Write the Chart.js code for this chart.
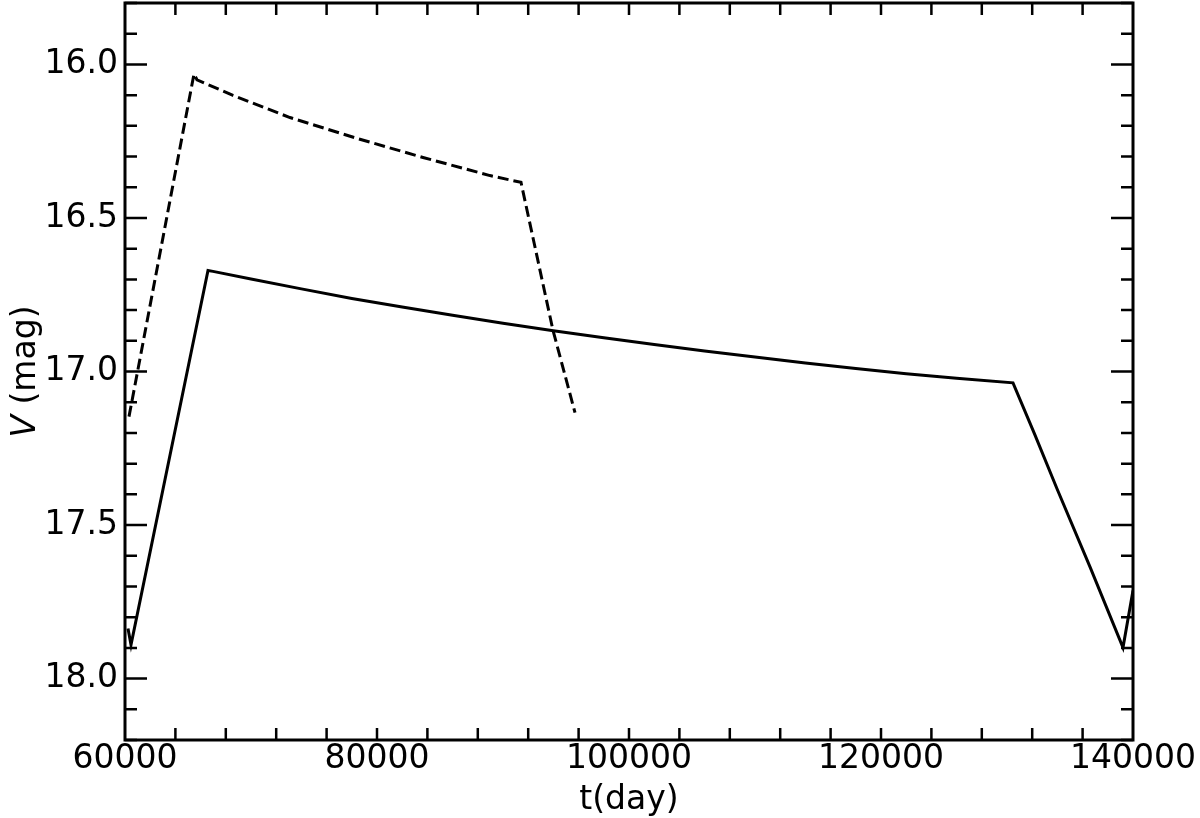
<!DOCTYPE html>
<html>
<head>
<meta charset="utf-8">
<script src="https://cdn.jsdelivr.net/npm/chart.js@4.4.1/dist/chart.umd.min.js"></script>
<style>
  html, body { margin: 0; padding: 0; background: #fff; }
  #wrap { width: 1200px; height: 818px; }
</style>
</head>
<body>
<div id="wrap"><canvas id="c" width="1200" height="818"></canvas></div>
<script>
// ---- data ----
const solidT = [60238, 60476, 66587, 66984, 70000, 74000, 78000, 82000, 86000, 90000, 94000, 98000, 102000, 106000, 110000, 114000, 118000, 122000, 126000, 130476, 132200, 133968, 136587, 139206, 140000];
const solidV = [17.837, 17.89, 16.671, 16.674, 16.699, 16.731, 16.762, 16.790, 16.817, 16.843, 16.867, 16.890, 16.912, 16.933, 16.953, 16.972, 16.990, 17.007, 17.022, 17.037, 17.205, 17.382, 17.636, 17.899, 17.713];

const dashT = [60317, 65476, 65714, 68571, 73095, 78413, 83651, 88968, 91429, 93968, 95714];
const dashV = [17.147, 16.031, 16.050, 16.101, 16.173, 16.241, 16.303, 16.362, 16.384, 16.866, 17.134];

const xTickLabels = [60000, 80000, 100000, 120000, 140000];
const yTickLabels = [16.0, 16.5, 17.0, 17.5, 18.0];
const xRange = [60000, 140000];
const yRange = [15.8, 18.2];
const xMinorStep = 4000;
const yMinorStep = 0.1;

const FONT = 'DejaVu Sans';

function toXY(ts, vs) { return ts.map((t, i) => ({ x: t, y: vs[i] })); }

const framePlugin = {
  id: 'frame',
  afterDraw(chart) {
    const { ctx, chartArea: a, scales: { x, y } } = chart;
    ctx.save();
    ctx.strokeStyle = '#000';
    ctx.lineWidth = 2.5;
    ctx.lineCap = 'butt';
    const nx = Math.round((xRange[1] - xRange[0]) / xMinorStep);
    for (let i = 1; i < nx; i++) {
      const px = x.getPixelForValue(xRange[0] + i * xMinorStep);
      ctx.beginPath();
      ctx.moveTo(px, a.bottom); ctx.lineTo(px, a.bottom - 12);
      ctx.moveTo(px, a.top); ctx.lineTo(px, a.top + 12);
      ctx.stroke();
    }
    const y0 = Math.ceil(yRange[0] / yMinorStep - 1e-6);
    const y1 = Math.floor(yRange[1] / yMinorStep + 1e-6);
    for (let k = y0; k <= y1; k++) {
      const v = k * yMinorStep;
      const major = Math.abs(v * 2 - Math.round(v * 2)) < 1e-6;
      const len = major ? 22 : 12;
      const py = y.getPixelForValue(v);
      ctx.beginPath();
      ctx.moveTo(a.left, py); ctx.lineTo(a.left + len, py);
      ctx.moveTo(a.right, py); ctx.lineTo(a.right - len, py);
      ctx.stroke();
    }
    ctx.lineWidth = 3;
    ctx.strokeRect(a.left, a.top, a.right - a.left, a.bottom - a.top);
    // y-axis label: italic V + " (mag)"
    ctx.fillStyle = '#000';
    ctx.translate(35, (a.top + a.bottom) / 2);
    ctx.rotate(-Math.PI / 2);
    ctx.textBaseline = 'alphabetic';
    const fIt = 'italic 33px "' + FONT + '"';
    const fNo = '33px "' + FONT + '"';
    ctx.font = fIt; const w1 = ctx.measureText('V').width;
    ctx.font = fNo; const w2 = ctx.measureText(' (mag)').width;
    let sx = -(w1 + w2) / 2;
    ctx.font = fIt; ctx.fillText('V', sx, 0);
    ctx.font = fNo; ctx.fillText(' (mag)', sx + w1, 0);
    ctx.restore();
  }
};

new Chart(document.getElementById('c'), {
  type: 'scatter',
  data: {
    datasets: [
      {
        data: toXY(solidT, solidV),
        showLine: true,
        borderColor: '#000',
        borderWidth: 3,
        pointRadius: 0,
        fill: false,
        tension: 0,
        clip: 0
      },
      {
        data: toXY(dashT, dashV),
        showLine: true,
        borderColor: '#000',
        borderWidth: 3,
        borderDash: [11, 5],
        pointRadius: 0,
        fill: false,
        tension: 0,
        clip: 0
      }
    ]
  },
  options: {
    responsive: false,
    animation: false,
    events: [],
    layout: { padding: { top: 3, right: 67, left: 0, bottom: 0 } },
    plugins: { legend: { display: false }, tooltip: { enabled: false } },
    scales: {
      x: {
        type: 'linear',
        min: xRange[0], max: xRange[1],
        grid: { display: false, drawTicks: false },
        border: { display: false },
        afterBuildTicks(s) { s.ticks = xTickLabels.map(v => ({ value: v })); },
        afterFit(s) { s.height = 78; s.paddingLeft = 0; s.paddingRight = 0; },
        ticks: {
          color: '#000',
          font: { family: FONT, size: 33, lineHeight: 1.1 },
          padding: 1,
          maxRotation: 0,
          autoSkip: false,
          callback: v => String(v)
        },
        title: {
          display: true,
          text: 't(day)',
          color: '#000',
          font: { family: FONT, size: 33, lineHeight: 1.0 },
          padding: { top: 0, bottom: 1 }
        }
      },
      y: {
        type: 'linear',
        reverse: true,
        min: yRange[0], max: yRange[1],
        grid: { display: false, drawTicks: false },
        border: { display: false },
        afterBuildTicks(s) { s.ticks = yTickLabels.map(v => ({ value: v })); },
        afterFit(s) { s.width = 125; s.paddingTop = 0; s.paddingBottom = 0; },
        ticks: {
          color: '#000',
          font: { family: FONT, size: 33 },
          padding: 7,
          autoSkip: false,
          callback: v => Number(v).toFixed(1)
        }
      }
    }
  },
  plugins: [framePlugin]
});
</script>
</body>
</html>
